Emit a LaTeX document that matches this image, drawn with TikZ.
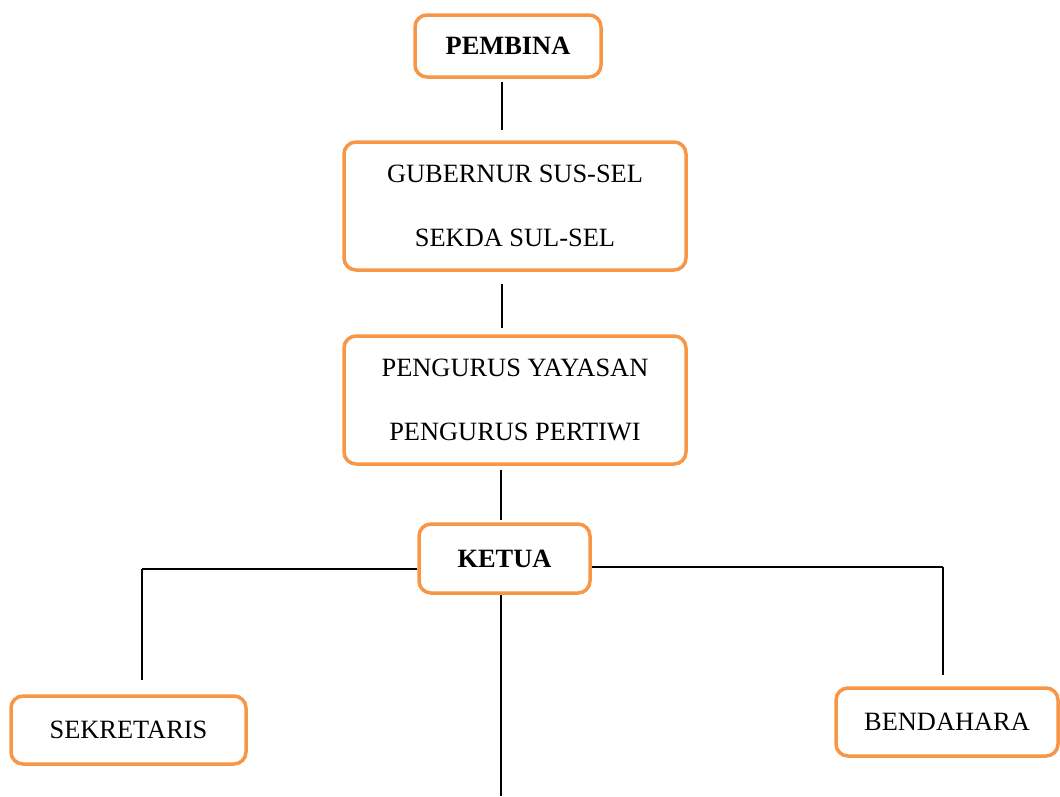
\documentclass[tikz,border=0pt]{standalone}
\usepackage{fontspec}
\setmainfont{Liberation Serif}
\usetikzlibrary{positioning,calc}

\definecolor{oranye}{HTML}{F79646}

\tikzset{
	kotak/.style={draw=oranye, line width=3.5pt, rounded corners=12pt, fill=white,
		inner sep=0pt, font=\fontsize{26.4}{64}\selectfont, align=center},
	garis/.style={line width=1.3pt, black}
}

\begin{document}
\begin{tikzpicture}[x=1pt, y=-1pt]
				% Canvas of the whole page
				\useasboundingbox (0,0) rectangle (1060,796);

				% Boxes - from top to bottom
				\node[kotak, minimum width=186pt, minimum height=62pt] (pembina) at (508,46) {\textbf{PEMBINA}};
				\node[kotak, minimum width=342pt, minimum height=128pt] (gubernur) at (515,206) {GUBERNUR SUS-SEL\\SEKDA SUL-SEL};
				\node[kotak, minimum width=342pt, minimum height=128pt] (pengurus) at (515,400) {PENGURUS YAYASAN\\PENGURUS PERTIWI};
				\node[kotak, minimum width=171pt, minimum height=69pt] (ketua) at (504.5,558.5) {\textbf{KETUA}};
				\node[kotak, minimum width=235pt, minimum height=68pt] (sekretaris) at (128.5,730) {SEKRETARIS};
				\node[kotak, minimum width=222pt, minimum height=68pt] (bendahara) at (947,722) {BENDAHARA};

				% Joints of the lines
				\coordinate (sumbu) at (502,0);
				\coordinate (kiri) at (142,569);
				\coordinate (kanan) at (943,567);
				\coordinate (bawah) at (501,796);

				% Vertical lines of the main column
				\draw[garis, shorten <=3pt, shorten >=10pt] (pembina.south -| sumbu) -- (gubernur.north -| sumbu);
				\draw[garis, shorten <=12pt, shorten >=6pt] (gubernur.south -| sumbu) -- (pengurus.north -| sumbu);
				\draw[garis, shorten <=4pt, shorten >=2pt] (pengurus.south -| bawah) -- (ketua.north -| bawah);
				\draw[garis] (ketua.south -| bawah) -- (bawah);

				% Branches to the left and to the right
				\draw[garis] (ketua.west |- kiri) -- (kiri);
				\draw[garis, shorten >=14pt] (kiri) -- (kiri |- sekretaris.north);
				\draw[garis] (ketua.east |- kanan) -- (kanan);
				\draw[garis, shorten >=11pt] (kanan) -- (kanan |- bendahara.north);
\end{tikzpicture}
\end{document}
